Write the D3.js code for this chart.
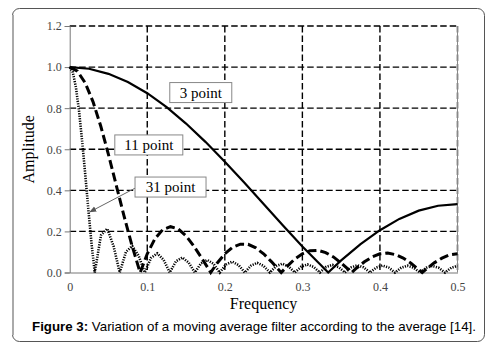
<!DOCTYPE html>
<html>
<head>
<meta charset="utf-8">
<script src="https://cdn.jsdelivr.net/npm/d3@7"></script>
<style>
  body { margin: 0; background: #fff; }
  svg { display: block; }
  .tick text { font-family: "Liberation Serif", "Times New Roman", serif; font-size: 12px; fill: #444; }
</style>
</head>
<body>
<div id="chart"></div>
<script>
// frequency response
const freq3 = [0, 0.025, 0.05, 0.075, 0.1, 0.125, 0.15, 0.175, 0.2, 0.225, 0.25, 0.275, 0.3, 0.3333,
               0.35, 0.375, 0.4, 0.425, 0.45, 0.475, 0.5];
const amp3 = [1, 0.992, 0.967, 0.927, 0.873, 0.805, 0.725, 0.636, 0.539, 0.438, 0.333, 0.229, 0.127, 0,
              0.059, 0.138, 0.206, 0.261, 0.301, 0.325, 0.333];

const freq11 = [0, 0.01, 0.02, 0.03, 0.04, 0.05, 0.06, 0.07, 0.08, 0.09, 0.0909,
                0.1, 0.11, 0.12, 0.13, 0.14, 0.15, 0.16, 0.17, 0.18, 0.1818,
                0.19, 0.2, 0.21, 0.22, 0.23, 0.24, 0.25, 0.26, 0.27, 0.2727,
                0.28, 0.29, 0.3, 0.31, 0.32, 0.33, 0.34, 0.35, 0.36, 0.3636,
                0.37, 0.38, 0.39, 0.4, 0.41, 0.42, 0.43, 0.44, 0.45, 0.4545,
                0.46, 0.47, 0.48, 0.49, 0.5];
const amp11 = [1, 0.980, 0.923, 0.832, 0.713, 0.574, 0.425, 0.276, 0.135, 0.010, 0,
               0.091, 0.165, 0.209, 0.223, 0.212, 0.178, 0.129, 0.071, 0.011, 0,
               0.045, 0.091, 0.123, 0.138, 0.137, 0.120, 0.091, 0.053, 0.011, 0,
               0.029, 0.065, 0.091, 0.106, 0.108, 0.097, 0.076, 0.046, 0.013, 0,
               0.022, 0.052, 0.076, 0.091, 0.095, 0.087, 0.070, 0.045, 0.014, 0,
               0.017, 0.047, 0.070, 0.086, 0.091];

const freq31 = [0, 0.0040, 0.0081, 0.0121, 0.0161, 0.0202, 0.0242, 0.0282, 0.0323,
                0.0403, 0.0484, 0.0565, 0.0645, 0.0726, 0.0806, 0.0887, 0.0968,
                0.1048, 0.1129, 0.1210, 0.1290, 0.1371, 0.1452, 0.1532, 0.1613,
                0.1694, 0.1774, 0.1855, 0.1935, 0.2016, 0.2097, 0.2177, 0.2258,
                0.2339, 0.2419, 0.2500, 0.2581, 0.2661, 0.2742, 0.2823, 0.2903,
                0.2984, 0.3065, 0.3145, 0.3226, 0.3306, 0.3387, 0.3468, 0.3548,
                0.3629, 0.3710, 0.3790, 0.3871, 0.3952, 0.4032, 0.4113, 0.4194,
                0.4274, 0.4355, 0.4435, 0.4516, 0.4597, 0.4677, 0.4758, 0.4839,
                0.4919, 0.5];
const amp31 = [1, 0.975, 0.900, 0.784, 0.637, 0.471, 0.300, 0.139, 0,
               0.181, 0.213, 0.129, 0, 0.101, 0.129, 0.083, 0,
               0.071, 0.093, 0.062, 0, 0.055, 0.073, 0.049, 0,
               0.045, 0.061, 0.042, 0, 0.039, 0.053, 0.036, 0,
               0.034, 0.047, 0.032, 0, 0.031, 0.043, 0.029, 0,
               0.028, 0.039, 0.027, 0, 0.027, 0.037, 0.026, 0,
               0.025, 0.035, 0.025, 0, 0.024, 0.034, 0.024, 0,
               0.023, 0.033, 0.023, 0, 0.023, 0.032, 0.023, 0,
               0.023, 0.032];

const xTicks = [0, 0.1, 0.2, 0.3, 0.4, 0.5];
const yTicks = [0, 0.2, 0.4, 0.6, 0.8, 1.0, 1.2];

const width = 501, height = 354;
const margin = {top: 26, right: 43.5, bottom: 81.5, left: 69.7};
const mwidth = width - margin.left - margin.right;
const mheight = height - margin.top - margin.bottom;

const svg = d3.select("#chart").append("svg")
    .attr("width", width)
    .attr("height", height);

// outer frame
svg.append("rect")
    .attr("x", 12.5).attr("y", 8.5)
    .attr("width", 472).attr("height", 333)
    .attr("rx", 7)
    .attr("fill", "none")
    .attr("stroke", "#555")
    .attr("stroke-width", 1);
svg.append("line")
    .attr("x1", 13).attr("x2", 13).attr("y1", 15).attr("y2", 335)
    .attr("stroke", "#aaa").attr("stroke-width", 2);

const xScale = d3.scaleLinear().domain([0, 0.5]).range([0, mwidth]);
const yScale = d3.scaleLinear().domain([0, 1.2]).range([mheight, 0]);

const g = svg.append("g")
    .attr("transform", "translate(" + margin.left + "," + margin.top + ")");

// grid
g.append("g").selectAll("line")
    .data(yTicks.filter(d => d > 0))
    .enter().append("line")
    .attr("x1", 0).attr("x2", mwidth)
    .attr("y1", d => yScale(d)).attr("y2", d => yScale(d))
    .attr("stroke", "#000").attr("stroke-width", 1.4)
    .attr("stroke-dasharray", "6.5,3");
g.append("g").selectAll("line")
    .data(xTicks.filter(d => d > 0))
    .enter().append("line")
    .attr("x1", d => xScale(d)).attr("x2", d => xScale(d))
    .attr("y1", 0).attr("y2", mheight)
    .attr("stroke", "#000").attr("stroke-width", 1.4)
    .attr("stroke-dasharray", "6.5,3");

// axes
const yAxis = d3.axisLeft(yScale)
    .tickValues(yTicks)
    .tickFormat(d3.format(".1f"))
    .tickSize(5)
    .tickPadding(3);
const xAxis = d3.axisBottom(xScale)
    .tickValues(xTicks)
    .tickFormat(d => d === 0 ? "0" : d.toFixed(1))
    .tickSize(0)
    .tickPadding(10);

g.append("g").call(yAxis)
    .call(a => a.selectAll("line, path").attr("stroke", "#777"));
g.append("g").attr("transform", "translate(0," + mheight + ")").call(xAxis)
    .call(a => a.selectAll("line, path").attr("stroke", "#777"));
g.append("line")
    .attr("x1", mwidth).attr("x2", mwidth).attr("y1", 0).attr("y2", mheight)
    .attr("stroke", "#888").attr("stroke-width", 1);

// curves
const series = [
    {f: freq3, a: amp3, width: 2.2, dash: null},
    {f: freq11, a: amp11, width: 3, dash: "9,4"},
    {f: freq31, a: amp31, width: 2.6, dash: "1.2,1.3"}
];
const line = d3.line()
    .x(d => xScale(d[0]))
    .y(d => yScale(d[1]));

series.forEach(s => {
    g.append("path")
        .datum(d3.zip(s.f, s.a))
        .attr("fill", "none")
        .attr("stroke", "#000")
        .attr("stroke-width", s.width)
        .attr("stroke-dasharray", s.dash)
        .attr("d", line);
});

// labels
const labels = [
    {text: "3 point", x: 0.169, y: 0.876, w: 62},
    {text: "11 point", x: 0.102, y: 0.621, w: 68},
    {text: "31 point", x: 0.130, y: 0.416, w: 71}
];
labels.forEach(l => {
    const cx = xScale(l.x), cy = yScale(l.y);
    g.append("rect")
        .attr("x", cx - l.w / 2).attr("y", cy - 10)
        .attr("width", l.w).attr("height", 20)
        .attr("fill", "#fff")
        .attr("stroke", "#888");
    g.append("text")
        .attr("x", cx).attr("y", cy + 5)
        .attr("text-anchor", "middle")
        .style("font-family", "'Liberation Serif', serif")
        .style("font-size", "15px")
        .text(l.text);
});

// arrow to 31 point curve
svg.append("defs").append("marker")
    .attr("id", "arr")
    .attr("viewBox", "0 0 10 10")
    .attr("refX", 9).attr("refY", 5)
    .attr("markerWidth", 7).attr("markerHeight", 7)
    .attr("orient", "auto")
    .append("path")
    .attr("d", "M0,1 L10,5 L0,9 Z")
    .attr("fill", "#555");
g.append("line")
    .attr("x1", xScale(0.084)).attr("y1", yScale(0.41))
    .attr("x2", xScale(0.026)).attr("y2", yScale(0.295))
    .attr("stroke", "#666").attr("stroke-width", 1)
    .attr("marker-end", "url(#arr)");

// axis titles
svg.append("text")
    .attr("x", margin.left + mwidth / 2).attr("y", 309)
    .attr("text-anchor", "middle")
    .style("font-family", "'Liberation Serif', serif")
    .style("font-size", "16px")
    .text("Frequency");
svg.append("text")
    .attr("transform", "translate(34," + (margin.top + mheight / 2) + ") rotate(-90)")
    .attr("text-anchor", "middle")
    .style("font-family", "'Liberation Serif', serif")
    .style("font-size", "16px")
    .text("Amplitude");

// caption
const cap = svg.append("text")
    .attr("x", 254).attr("y", 331)
    .attr("text-anchor", "middle")
    .style("font-family", "'Liberation Sans', Arial, sans-serif")
    .style("font-size", "13.3px");
cap.append("tspan").style("font-weight", "bold").text("Figure 3:");
cap.append("tspan").text(" Variation of a moving average filter according to the average [14].");
</script>
</body>
</html>
